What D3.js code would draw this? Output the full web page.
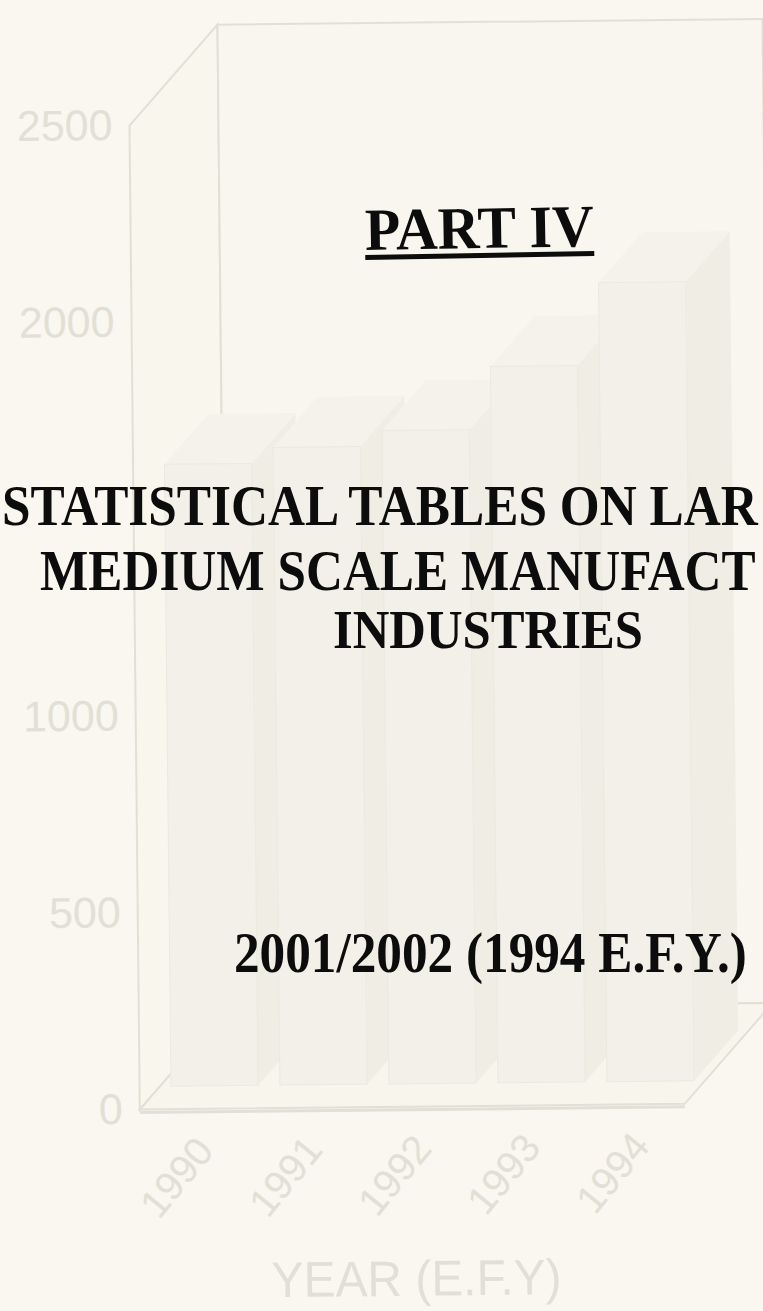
<!DOCTYPE html>
<html>
<head>
<meta charset="utf-8">
<title>Part IV</title>
<script src="https://cdn.jsdelivr.net/npm/d3@7"></script>
<style>
html, body { margin: 0; padding: 0; background: #f9f7ef; overflow: hidden; }
svg { display: block; }
</style>
</head>
<body>
<div id="page"></div>
<script>
var years = ['1990', '1991', '1992', '1993', '1994'];
var values = [1580, 1620, 1660, 1820, 2030];
// 1500 sits under the cover title and does not show
var yTicks = [0, 500, 1000, 2000, 2500];
var xTitle = 'YEAR (E.F.Y)';
var partTitle = 'PART IV';
var titleLines = ['STATISTICAL TABLES ON LAR', 'MEDIUM SCALE MANUFACT', 'INDUSTRIES'];
var subTitle = '2001/2002 (1994 E.F.Y.)';

(function () {

    var width = 763,
        height = 1311;

    // depth of the 3d box and where the columns sit inside it
    var dx = 89, dy = -100;
    var front = 0.23, back = 0.73;

    var faint = '#e2e0d6';
    var serif = "'Times New Roman', 'Liberation Serif', serif";
    var sans = "Arial, 'Liberation Sans', sans-serif";

    var svg = d3.select('#page').append('svg')
        .attr('width', width)
        .attr('height', height);

    svg.append('rect')
        .attr('width', width)
        .attr('height', height)
        .attr('fill', '#f9f7ef');

    var x = d3.scaleBand()
        .domain(years)
        .range([135, 680])
        .paddingInner(0.2)
        .paddingOuter(0.1);

    var y = d3.scaleLinear()
        .domain([0, 2500])
        .range([1107, 123]);

    // faded chart behind the cover text, scan is a little skewed
    var chart = svg.append('g')
        .attr('transform', 'rotate(-0.6, 380, 650)');

    var x0 = x.range()[0], x1 = x.range()[1];
    var yTop = y(2500), yBase = y(0);

    function poly(pts) {
        return 'M' + pts.map(function (p) { return p[0] + ',' + p[1]; }).join('L') + 'Z';
    }

    // side wall, back wall, floor
    chart.append('path')
        .attr('d', poly([[x0, yTop], [x0 + dx, yTop + dy], [x0 + dx, yBase + dy], [x0, yBase]]))
        .attr('fill', '#f8f6ed')
        .attr('stroke', faint)
        .attr('stroke-width', 2);

    chart.append('path')
        .attr('d', poly([[x0 + dx, yTop + dy], [x1 + dx, yTop + dy], [x1 + dx, yBase + dy], [x0 + dx, yBase + dy]]))
        .attr('fill', '#f8f6ee')
        .attr('stroke', faint)
        .attr('stroke-width', 2);

    chart.append('path')
        .attr('d', poly([[x0, yBase], [x1, yBase], [x1 + dx, yBase + dy], [x0 + dx, yBase + dy]]))
        .attr('fill', '#f7f5ec')
        .attr('stroke', faint)
        .attr('stroke-width', 2);

    chart.append('line')
        .attr('x1', x0).attr('x2', x1)
        .attr('y1', yBase + 3).attr('y2', yBase + 3)
        .attr('stroke', faint)
        .attr('stroke-width', 3);

    // 3d columns
    var bars = chart.selectAll('g.bar')
        .data(years)
        .enter().append('g')
        .attr('class', 'bar');

    bars.each(function (d, i) {
        var g = d3.select(this);
        var l = x(d), r = x(d) + x.bandwidth();
        var t = y(values[i]), b = y(0);
        var fx = dx * front, fy = dy * front;
        var bx = dx * back, by = dy * back;

        g.append('path')
            .attr('d', poly([[r + fx, t + fy], [r + bx, t + by], [r + bx, b + by], [r + fx, b + fy]]))
            .attr('fill', '#efede4');

        g.append('path')
            .attr('d', poly([[l + fx, t + fy], [r + fx, t + fy], [r + bx, t + by], [l + bx, t + by]]))
            .attr('fill', '#f4f2ea');

        g.append('rect')
            .attr('x', l + fx)
            .attr('y', t + fy)
            .attr('width', x.bandwidth())
            .attr('height', b - t)
            .attr('fill', '#f2f0e8')
            .attr('stroke', '#ebe9e0')
            .attr('stroke-width', 1);
    });

    // value axis
    var yAxis = chart.append('g')
        .attr('transform', 'translate(118,0)')
        .call(d3.axisLeft(y).tickValues(yTicks).tickFormat(d3.format('d')).tickSize(0).tickPadding(0));

    yAxis.select('.domain').remove();
    yAxis.selectAll('text')
        .attr('fill', faint)
        .style('font-family', sans)
        .style('font-size', '43px');

    // year labels
    chart.selectAll('text.year')
        .data(years)
        .enter().append('text')
        .attr('class', 'year')
        .attr('transform', function (d) {
            return 'translate(' + (x(d) + x.bandwidth() / 2 + 10) + ',' + (yBase + 34) + ') rotate(-50)';
        })
        .attr('text-anchor', 'end')
        .attr('dy', '0.35em')
        .attr('fill', faint)
        .style('font-family', sans)
        .style('font-size', '40px')
        .text(function (d) { return d; });

    chart.append('text')
        .attr('x', 265)
        .attr('y', 1296)
        .attr('textLength', 290)
        .attr('lengthAdjust', 'spacingAndGlyphs')
        .attr('fill', faint)
        .style('font-family', sans)
        .style('font-size', '50px')
        .text(xTitle);

    // cover text: the scan stretches the type a little in height,
    // so size each line by its width and scale it up vertically
    var cover = svg.append('g')
        .attr('fill', '#0c0c0c')
        .style('font-family', serif)
        .style('font-weight', 'bold');

    function fitText(parent, str, px, py, w, visual) {
        var t = parent.append('text')
            .style('font-size', '50px')
            .text(str);
        var fs = 50 * w / t.node().getComputedTextLength();
        t.style('font-size', fs + 'px')
            .attr('transform', 'translate(' + px + ',' + py + ') scale(1,' + (visual / fs) + ')');
        return t;
    }

    var part = cover.append('g')
        .attr('transform', 'rotate(-1, 480, 240)');

    fitText(part, partTitle, 365, 248, 229, 60);

    part.append('rect')
        .attr('x', 365)
        .attr('y', 253)
        .attr('width', 229)
        .attr('height', 5);

    var lineX = [2, 40, 333],
        lineY = [525, 590, 648],
        lineW = [756, 716, 310];

    titleLines.forEach(function (d, i) {
        fitText(cover, d, lineX[i], lineY[i], lineW[i], 56);
    });

    fitText(cover, subTitle, 234, 972, 513, 56);

})();
</script>
</body>
</html>
